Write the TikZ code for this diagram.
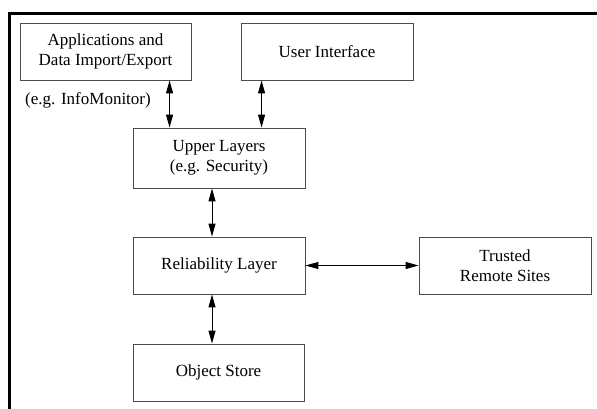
\documentclass[tikz,border=0pt]{standalone}
\usepackage{fontspec}
\setmainfont{Liberation Serif}
\usetikzlibrary{arrows.meta}
\begin{document}
\begin{tikzpicture}[x=1pt,y=-1pt,
  box/.style={draw=black!70,line width=0.9pt,inner sep=0pt,minimum width=172pt,minimum height=57pt,align=center,font=\fontsize{17pt}{20pt}\selectfont},
  lbl/.style={inner sep=0pt,font=\fontsize{17pt}{20pt}\selectfont},
  dbl/.style={line width=1pt,{Triangle[length=13pt,width=7pt]}-{Triangle[length=13pt,width=7pt]}},
  frame/.style={line width=2.6pt}]
\useasboundingbox (0,0) rectangle (597,409);
\draw[frame] (9.7,409) -- (9.7,13.5) -- (597,13.5);
\node[box,minimum width=171pt] (apps) at (105.5,51.5) {Applications and\\Data Import/Export};
\node[box] (ui) at (327,51.5) {User Interface};
\node[lbl] (eg) at (88,100) {(e.g. InfoMonitor)};
\node[box,minimum height=60pt] (upper) at (219,158) {Upper Layers\\(e.g. Security)};
\node[box] (rel) at (219,265.5) {Reliability Layer};
\node[box] (trust) at (505,265.5) {Trusted\\Remote Sites};
\node[box,minimum width=171pt] (obj) at (218.5,372.5) {Object Store};
\draw[dbl] ([xshift=37pt]upper.north west |- apps.south) -- ([xshift=37pt]upper.north west);
\draw[dbl] ([xshift=129pt]upper.north west |- ui.south) -- ([xshift=129pt]upper.north west);
\draw[dbl] ([xshift=-7pt]upper.south) -- ([xshift=-7pt]rel.north);
\draw[dbl] ([xshift=-7pt]rel.south) -- ([xshift=-7pt]rel.south |- obj.north);
\draw[dbl] (rel.east) -- (trust.west);
\end{tikzpicture}
\end{document}
